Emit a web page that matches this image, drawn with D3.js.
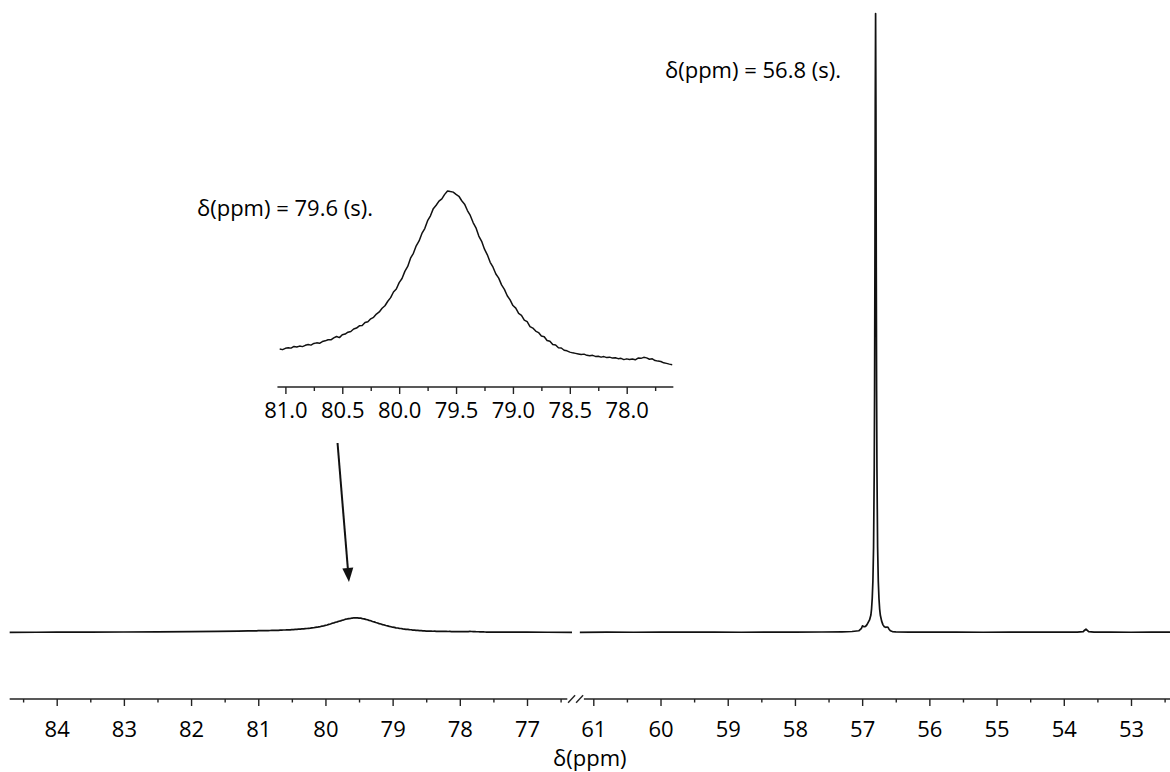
<!DOCTYPE html>
<html>
<head>
<meta charset="utf-8">
<script src="https://cdn.jsdelivr.net/npm/d3@7"></script>
<style>
  html, body { margin: 0; padding: 0; background: #fff; }
  svg { display: block; font-family: "Open Sans", sans-serif; }
</style>
</head>
<body>
<svg id="chart" width="1170" height="772"></svg>
<script>
// ---- Spectrum data (intensity in arbitrary units, sharp signal = 1000) ----

// Broad signal region, sampled on a regular ppm grid
const broadStart = 81.075;
const broadStep = 0.025;
const broadIntensity = [
  2.35, 2.45, 2.38, 2.55, 2.62, 2.58, 2.80, 2.72, 2.85, 2.78,
  2.95, 3.05, 2.98, 3.20, 3.28, 3.22, 3.45, 3.55, 3.70, 3.68,
  3.95, 4.12, 3.98, 4.35, 4.45, 4.70, 4.80, 5.12, 5.25, 5.55,
  5.58, 5.98, 6.10, 6.48, 6.68, 7.12, 7.40, 7.88, 8.22, 8.82,
  9.30, 10.05, 10.45, 11.30, 11.85, 12.80, 13.45, 14.55, 15.20, 16.20,
  16.85, 17.85, 18.50, 19.55, 20.20, 21.15, 21.60, 22.15, 22.45, 23.05,
  23.50, 23.42, 23.35, 23.05, 22.80, 22.20, 21.75, 20.90, 20.25, 19.30,
  18.60, 17.50, 16.80, 15.75, 15.00, 14.00, 13.35, 12.45, 11.90, 11.00,
  10.40, 9.55, 9.00, 8.25, 7.90, 7.20, 6.95, 6.30, 6.10, 5.45,
  5.25, 4.85, 4.65, 4.20, 4.10, 3.60, 3.50, 3.05, 3.00, 2.62,
  2.60, 2.30, 2.22, 2.05, 1.95, 1.88, 1.80, 1.72, 1.78, 1.62,
  1.55, 1.62, 1.48, 1.50, 1.38, 1.45, 1.32, 1.38, 1.25, 1.30,
  1.18, 1.22, 1.05, 1.15, 1.08, 1.12, 1.02, 1.25, 1.22, 1.35,
  1.28, 1.10, 1.15, 0.92, 0.85, 0.80, 0.62, 0.55, 0.45, 0.38
];

// Baseline on either side of the broad signal
const lowWingPpm = [84.7, 84.3, 84.0, 83.5, 83.0, 82.5, 82.0, 81.6, 81.3, 81.15];
const lowWingIntensity = [0.0, 0.1, 0.2, 0.35, 0.5, 0.75, 1.05, 1.45, 1.9, 2.15];
const highWingPpm = [77.5, 77.3, 77.0, 76.7, 76.33];
const highWingIntensity = [0.35, 0.3, 0.2, 0.1, 0.0];

// Sharp signal region
const sharpPpm = [
  61.2, 60.8, 60.4, 60.0, 59.6, 59.2, 58.8, 58.4, 58.0, 57.6,
  57.3, 57.15, 57.05, 57.01, 56.995, 56.985, 56.97, 56.95, 56.93, 56.91,
  56.89, 56.87, 56.86, 56.85, 56.84, 56.83, 56.82, 56.815, 56.81, 56.805,
  56.80, 56.795, 56.79, 56.785, 56.78, 56.77, 56.76, 56.75, 56.74, 56.73,
  56.71, 56.69, 56.67, 56.65, 56.63, 56.615, 56.60, 56.58, 56.55, 56.5,
  56.3, 56.0, 55.6, 55.2, 54.8, 54.4, 54.0, 53.8, 53.71, 53.69,
  53.67, 53.65, 53.63, 53.55, 53.3, 53.0, 52.7, 52.42
];
const sharpIntensity = [
  0.0, 0.3, 0.1, 0.4, 0.2, 0.3, 0.1, 0.4, 0.2, 0.5,
  0.8, 1.3, 2.5, 6.5, 10.5, 9.5, 9.0, 9.5, 12, 16,
  20, 28, 38, 55, 83, 138, 265, 390, 590, 852,
  1000, 852, 590, 390, 265, 138, 83, 55, 38, 28,
  18, 12, 9, 8, 8.5, 8, 5, 2.5, 1.2, 0.8,
  0.4, 0.2, 0.4, 0.1, 0.3, 0.2, 0.3, 0.4, 1.2, 3.5,
  5, 3, 1, 0.3, 0.2, 0.1, 0.3, 0.2
];

// Axis ticks
const leftMajorTicks = [84, 83, 82, 81, 80, 79, 78, 77];
const leftMinorTicks = [84.5, 83.5, 82.5, 81.5, 80.5, 79.5, 78.5, 77.5, 76.5];
const rightMajorTicks = [61, 60, 59, 58, 57, 56, 55, 54, 53];
const rightMinorTicks = [60.5, 59.5, 58.5, 57.5, 56.5, 55.5, 54.5, 53.5, 52.5];
const insetMajorTicks = [81.0, 80.5, 80.0, 79.5, 79.0, 78.5, 78.0];
const insetMinorTicks = [80.75, 80.25, 79.75, 79.25, 78.75, 78.25, 77.75];
const axisTitle = "δ(ppm)";

// ---- Assemble series ----
const broad = broadIntensity.map((v, i) => ({ ppm: broadStart - i * broadStep, v }));
const leftSeries = [
  ...lowWingPpm.map((p, i) => ({ ppm: p, v: lowWingIntensity[i] })),
  ...broad,
  ...highWingPpm.map((p, i) => ({ ppm: p, v: highWingIntensity[i] }))
];
const rightSeries = sharpPpm.map((p, i) => ({ ppm: p, v: sharpIntensity[i] }));

// ---- Scales ----
const leftX = d3.scaleLinear().domain([84, 77]).range([56.7, 527]);
const rightX = d3.scaleLinear().domain([61, 53]).range([593.3, 1131]);
const mainY = d3.scaleLinear().domain([0, 1000]).range([632.3, 13.5]);

const insetX = d3.scaleLinear().domain([81.0, 78.0]).range([285.4, 626.7]);
const insetY = d3.scaleLinear().domain([0, 23.5]).range([367.5, 191]);
const insetDomain = [81.07, 77.59];

const axisY = 699;
const insetAxisY = 387;

const svg = d3.select("#chart");
svg.append("rect").attr("width", 1170).attr("height", 772).attr("fill", "#fff");

const ink = "#111";

// ---- Spectrum traces ----
const leftLine = d3.line().x(d => leftX(d.ppm)).y(d => mainY(d.v));
const rightLine = d3.line().x(d => rightX(d.ppm)).y(d => mainY(d.v));

svg.append("path").datum(leftSeries)
  .attr("d", leftLine).attr("fill", "none")
  .attr("stroke", ink).attr("stroke-width", 1.7).attr("stroke-linejoin", "round");
svg.append("path").datum(rightSeries)
  .attr("d", rightLine).attr("fill", "none")
  .attr("stroke", ink).attr("stroke-width", 1.7).attr("stroke-linejoin", "round");

// ---- Main axis (broken) ----
const axisG = svg.append("g").attr("stroke", "#222");
const leftAxisEnd = 76.4, rightAxisStart = 61.14;
axisG.append("line")
  .attr("x1", leftX(84.7)).attr("x2", leftX(leftAxisEnd))
  .attr("y1", axisY).attr("y2", axisY).attr("stroke-width", 1.4);
axisG.append("line")
  .attr("x1", rightX(rightAxisStart)).attr("x2", 1170)
  .attr("y1", axisY).attr("y2", axisY).attr("stroke-width", 1.4);

// break marks
const bx1 = leftX(leftAxisEnd), bx2 = rightX(rightAxisStart);
const gapMid = (bx1 + bx2) / 2;
[gapMid - 4, gapMid + 4].forEach(cx => {
  axisG.append("line")
    .attr("x1", cx - 3.5).attr("y1", axisY + 3.8)
    .attr("x2", cx + 3.5).attr("y2", axisY - 3.8)
    .attr("stroke-width", 1.4);
});

function drawTicks(scale, majors, minors, y, majorLen, minorLen, pad, fmt) {
  const gMaj = svg.append("g").attr("transform", `translate(0,${y})`)
    .call(d3.axisBottom(scale).tickValues(majors).tickSizeInner(majorLen)
      .tickSizeOuter(0).tickPadding(pad).tickFormat(fmt));
  const gMin = svg.append("g").attr("transform", `translate(0,${y})`)
    .call(d3.axisBottom(scale).tickValues(minors).tickSizeInner(minorLen)
      .tickSizeOuter(0).tickFormat(""));
  [gMaj, gMin].forEach(g => {
    g.select(".domain").remove();
    g.selectAll(".tick line").attr("stroke", "#222").attr("stroke-width", 1.4);
  });
  gMaj.selectAll(".tick text")
    .attr("font-family", "'Open Sans', sans-serif")
    .attr("font-size", 22).attr("fill", "#000");
}

drawTicks(leftX, leftMajorTicks, leftMinorTicks, axisY, 7, 3.5, 15.5, d3.format("d"));
drawTicks(rightX, rightMajorTicks, rightMinorTicks, axisY, 7, 3.5, 15.5, d3.format("d"));

svg.append("text")
  .attr("x", (leftX(84.7) + 1170) / 2).attr("y", 766)
  .attr("text-anchor", "middle").attr("font-size", 22).attr("fill", "#000")
  .text(axisTitle);

// ---- Inset: expanded view of the broad signal ----
const insetSeries = broad.filter(d => d.ppm <= insetDomain[0] + 1e-9 && d.ppm >= insetDomain[1] - 1e-9);
svg.append("path").datum(insetSeries)
  .attr("d", d3.line().x(d => insetX(d.ppm)).y(d => insetY(d.v)))
  .attr("fill", "none").attr("stroke", ink).attr("stroke-width", 1.5)
  .attr("stroke-linejoin", "round");

svg.append("line")
  .attr("x1", insetX(insetDomain[0])).attr("x2", insetX(insetDomain[1]))
  .attr("y1", insetAxisY).attr("y2", insetAxisY)
  .attr("stroke", "#222").attr("stroke-width", 1.4);
drawTicks(insetX, insetMajorTicks, insetMinorTicks, insetAxisY, 7, 4, 8, d3.format(".1f"));

// ---- Peak annotations ----
const fmtPpm = d3.format(".1f");
const broadPeak = broad[d3.maxIndex(broad, d => d.v)];
const sharpPeak = rightSeries[d3.maxIndex(rightSeries, d => d.v)];

svg.append("text")
  .attr("x", 197).attr("y", 216).attr("font-size", 22).attr("fill", "#000")
  .text(`δ(ppm) = ${fmtPpm(broadPeak.ppm)} (s).`);
svg.append("text")
  .attr("x", 665).attr("y", 78).attr("font-size", 22).attr("fill", "#000")
  .text(`δ(ppm) = ${fmtPpm(sharpPeak.ppm)} (s).`);

// ---- Arrow from inset down to the broad signal ----
const tail = [leftX(79.82), 443];
const tip = [leftX(79.65), 582];
const ang = Math.atan2(tip[1] - tail[1], tip[0] - tail[0]);
const headLen = 14, headHalf = 5.5;
const baseC = [tip[0] - headLen * Math.cos(ang), tip[1] - headLen * Math.sin(ang)];
svg.append("line")
  .attr("x1", tail[0]).attr("y1", tail[1])
  .attr("x2", baseC[0]).attr("y2", baseC[1])
  .attr("stroke", "#111").attr("stroke-width", 2);
svg.append("path")
  .attr("d", d3.line()([
    tip,
    [baseC[0] + headHalf * Math.sin(ang), baseC[1] - headHalf * Math.cos(ang)],
    [baseC[0] - headHalf * Math.sin(ang), baseC[1] + headHalf * Math.cos(ang)]
  ]) + "Z")
  .attr("fill", "#111");
</script>
</body>
</html>
